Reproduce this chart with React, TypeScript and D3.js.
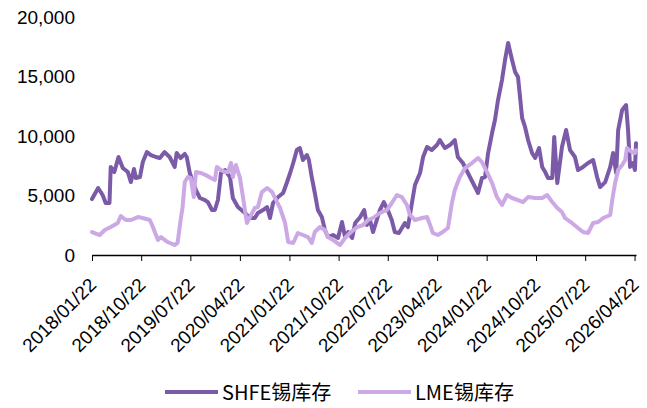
import { useEffect, useRef } from "react";
import * as d3 from "d3";

// SHFE tin stocks (tonnes)
const shfeDates = [
  "2018-01-22", "2018-02-25", "2018-03-22", "2018-04-08", "2018-04-29", "2018-05-06", "2018-05-26", "2018-06-18",
  "2018-07-12", "2018-08-09", "2018-08-26", "2018-09-12", "2018-09-23", "2018-10-15", "2018-10-31", "2018-11-23",
  "2018-12-15", "2019-01-12", "2019-02-03", "2019-03-01", "2019-03-29", "2019-04-26", "2019-05-07", "2019-05-29",
  "2019-06-21", "2019-07-02", "2019-07-19", "2019-08-05", "2019-08-22", "2019-09-13", "2019-10-11", "2019-10-27",
  "2019-11-19", "2019-12-05", "2019-12-22", "2020-01-08", "2020-01-30", "2020-02-27", "2020-03-14", "2020-04-11",
  "2020-05-20", "2020-06-17", "2020-07-14", "2020-07-31", "2020-08-28", "2020-09-20", "2020-10-06", "2020-10-23",
  "2020-11-20", "2020-12-18", "2021-01-09", "2021-01-26", "2021-02-12", "2021-03-04", "2021-03-21", "2021-04-07",
  "2021-04-29", "2021-05-10", "2021-05-26", "2021-06-12", "2021-06-29", "2021-07-21", "2021-08-07", "2021-08-24",
  "2021-09-21", "2021-10-19", "2021-11-10", "2021-11-27", "2021-12-14", "2022-01-05", "2022-01-22", "2022-02-19",
  "2022-03-13", "2022-03-28", "2022-04-14", "2022-05-01", "2022-05-22", "2022-06-08", "2022-06-30", "2022-07-22",
  "2022-08-13", "2022-08-30", "2022-09-22", "2022-10-25", "2022-11-11", "2022-12-03", "2022-12-20", "2023-01-17",
  "2023-02-03", "2023-02-25", "2023-03-23", "2023-04-21", "2023-05-07", "2023-06-04", "2023-07-02", "2023-07-29",
  "2023-08-15", "2023-09-12", "2023-10-10", "2023-11-07", "2023-12-05", "2023-12-27", "2024-01-13", "2024-01-30",
  "2024-02-21", "2024-03-08", "2024-03-25", "2024-04-16", "2024-05-03", "2024-05-20", "2024-06-11", "2024-06-28",
  "2024-07-14", "2024-08-06", "2024-08-22", "2024-09-08", "2024-09-30", "2024-10-17", "2024-11-08", "2024-11-25",
  "2024-12-12", "2024-12-28", "2025-01-20", "2025-01-31", "2025-02-17", "2025-03-15", "2025-04-07", "2025-04-29",
  "2025-05-26", "2025-06-12", "2025-07-10", "2025-08-07", "2025-09-04", "2025-09-26", "2025-10-13", "2025-11-10",
  "2025-12-08", "2025-12-24", "2026-01-10", "2026-01-21", "2026-02-12", "2026-03-06", "2026-03-17", "2026-03-28",
  "2026-04-13", "2026-04-24", "2026-04-30",
];
const shfeValues = [
  4700, 5630, 5040, 4370, 4370, 7400, 6970, 8235,
  7310, 6970, 6130, 7230, 6470, 6550, 7810, 8650,
  8400, 8235, 8150, 8650, 8235, 7400, 8570, 8150,
  8490, 8235, 6890, 6130, 5460, 4790, 4620, 4450,
  3780, 3780, 4620, 6890, 7140, 6550, 4790, 4030,
  3530, 3110, 3110, 3530, 3780, 4030, 3110, 4370,
  4870, 5210, 6130, 6890, 7730, 8820, 8990, 7980,
  8400, 7980, 6550, 5210, 3780, 3190, 2100, 1510,
  1680, 1430, 2770, 1510, 1930, 1430, 2690, 3190,
  3780, 2520, 2940, 1930, 2940, 3780, 4450, 3780,
  2940, 1930, 1850, 2690, 2350, 4370, 5880, 6890,
  8235, 9075, 8820, 9240, 9660, 8990, 9240, 9660,
  8235, 7730, 6890, 6050, 5210, 6470, 6550, 8570,
  10250, 11340, 13020, 14700, 16390, 17810, 16390, 15380,
  14960, 11500, 10760, 9660, 8570, 8150, 8990, 7400,
  6970, 6470, 6470, 9920, 6050, 9075, 10500, 8820,
  8235, 7140, 7400, 7730, 7980, 6550, 5710, 6130,
  7400, 8570, 6890, 10500, 12180, 12600, 10500, 7400,
  7730, 7140, 9400,
];

// LME tin stocks (tonnes)
const lmeDates = [
  "2018-01-22", "2018-03-06", "2018-04-03", "2018-05-06", "2018-06-14", "2018-07-01", "2018-07-28", "2018-08-26",
  "2018-10-04", "2018-10-31", "2018-12-09", "2018-12-26", "2019-01-23", "2019-02-09", "2019-03-18", "2019-04-26",
  "2019-05-12", "2019-05-29", "2019-06-09", "2019-06-21", "2019-07-08", "2019-07-24", "2019-08-10", "2019-08-22",
  "2019-09-19", "2019-10-16", "2019-11-13", "2019-12-05", "2019-12-16", "2020-01-08", "2020-01-30", "2020-02-16",
  "2020-03-04", "2020-03-14", "2020-03-31", "2020-04-22", "2020-05-09", "2020-05-31", "2020-06-17", "2020-07-14",
  "2020-07-31", "2020-08-22", "2020-09-20", "2020-10-18", "2020-11-03", "2020-12-01", "2020-12-29", "2021-01-15",
  "2021-02-12", "2021-03-10", "2021-04-07", "2021-05-05", "2021-05-26", "2021-06-12", "2021-07-10", "2021-08-07",
  "2021-08-24", "2021-09-21", "2021-10-30", "2021-11-27", "2021-12-24", "2022-02-02", "2022-03-07", "2022-04-03",
  "2022-05-01", "2022-06-08", "2022-07-17", "2022-08-13", "2022-09-11", "2022-10-08", "2022-11-05", "2022-11-22",
  "2022-12-20", "2023-01-28", "2023-02-25", "2023-03-14", "2023-03-29", "2023-04-26", "2023-05-23", "2023-06-21",
  "2023-07-13", "2023-07-29", "2023-08-26", "2023-09-24", "2023-11-01", "2023-12-05", "2023-12-27", "2024-01-24",
  "2024-02-21", "2024-03-19", "2024-04-16", "2024-05-14", "2024-06-11", "2024-07-14", "2024-08-11", "2024-09-08",
  "2024-10-17", "2024-11-25", "2024-12-23", "2025-01-20", "2025-02-17", "2025-03-15", "2025-04-01", "2025-05-09",
  "2025-06-12", "2025-07-10", "2025-08-07", "2025-09-04", "2025-10-02", "2025-10-30", "2025-12-08", "2025-12-19",
  "2026-01-04", "2026-01-21", "2026-02-12", "2026-03-01", "2026-03-11", "2026-04-07", "2026-04-24", "2026-04-30",
];
const lmeValues = [
  1930, 1680, 2100, 2350, 2690, 3280, 2940, 2940,
  3190, 3110, 2940, 2350, 1260, 1510, 1090, 840,
  1010, 2940, 4030, 6130, 6550, 6470, 4870, 6970,
  6890, 6720, 6470, 6300, 7400, 7140, 6970, 6970,
  7730, 6550, 7560, 6500, 4870, 2690, 3190, 3950,
  4030, 5290, 5630, 5290, 4790, 3950, 2690, 1090,
  1010, 1850, 1680, 1510, 1010, 1930, 2350, 2100,
  1510, 1260, 840, 1430, 1850, 2350, 2520, 2940,
  3110, 3530, 3780, 4370, 5040, 4870, 4200, 3360,
  2940, 3110, 3190, 2520, 1850, 1680, 1930, 2270,
  4370, 5460, 6550, 7310, 7730, 8150, 7810, 6970,
  6050, 4870, 4200, 5040, 4790, 4620, 4450, 4870,
  4790, 4790, 5040, 4450, 3950, 3610, 3110, 2690,
  2270, 1930, 1850, 2690, 2770, 3110, 3360, 4620,
  6050, 7140, 7560, 7980, 8990, 8650, 8570, 8800,
];

const xTickLabels = [
  "2018/01/22", "2018/10/22", "2019/07/22", "2020/04/22", "2021/01/22", "2021/10/22",
  "2022/07/22", "2023/04/22", "2024/01/22", "2024/10/22", "2025/07/22", "2026/04/22",
];
const yTicks = [0, 5000, 10000, 15000, 20000];
const seriesNames = ["SHFE锡库存", "LME锡库存"];
const seriesColors = ["#7b5aa8", "#cca9e5"];

export default function App() {
  const ref = useRef<SVGSVGElement>(null);

  useEffect(() => {
    const svg = d3.select(ref.current);
    svg.selectAll("*").remove();

    const parse = d3.timeParse("%Y-%m-%d");
    const parseTick = d3.timeParse("%Y/%m/%d");
    const font = "'Liberation Sans', Arial, sans-serif";

    const x = d3
      .scaleTime()
      .domain([parse("2018-01-22") as Date, parse("2026-04-30") as Date])
      .range([92, 636]);
    const y = d3.scaleLinear().domain([0, 20000]).range([255, 17]);

    // y axis: labels only
    const yAxis = svg
      .append("g")
      .attr("transform", "translate(75,0)")
      .call(
        d3
          .axisLeft(y)
          .tickValues(yTicks)
          .tickSize(0)
          .tickPadding(0)
          .tickFormat((d) => d3.format(",")(d as number))
      );
    yAxis.select(".domain").remove();
    yAxis
      .selectAll("text")
      .attr("font-family", font)
      .attr("font-size", 19)
      .attr("fill", "#000");

    // x axis
    const xAxis = svg
      .append("g")
      .attr("transform", "translate(0,255)")
      .call(
        d3
          .axisBottom(x)
          .tickValues(xTickLabels.map((t) => parseTick(t) as Date))
          .tickSize(6)
          .tickSizeOuter(0)
          .tickFormat((d) => d3.timeFormat("%Y/%m/%d")(d as Date))
      );
    xAxis.select(".domain").attr("stroke", "#000").attr("stroke-width", 1.3);
    xAxis.selectAll(".tick line").attr("stroke", "#000").attr("stroke-width", 1);
    xAxis
      .selectAll("text")
      .attr("font-family", font)
      .attr("font-size", 19)
      .attr("fill", "#000")
      .attr("text-anchor", "end")
      .attr("x", 0)
      .attr("y", 0)
      .attr("dy", 0)
      .attr("transform", "translate(5,31) rotate(-45)");

    const series = [
      { dates: shfeDates, values: shfeValues },
      { dates: lmeDates, values: lmeValues },
    ];

    const line = d3
      .line<[Date, number]>()
      .x((d) => x(d[0]))
      .y((d) => y(d[1]));

    series.forEach((s, i) => {
      const pts: [Date, number][] = s.dates.map((d, j) => [parse(d) as Date, s.values[j]]);
      svg
        .append("path")
        .datum(pts)
        .attr("fill", "none")
        .attr("stroke", seriesColors[i])
        .attr("stroke-width", 4)
        .attr("stroke-linejoin", "round")
        .attr("stroke-linecap", "round")
        .attr("d", line);
    });

    // legend
    const legendX = [165, 358];
    const legend = svg.append("g");
    seriesNames.forEach((name, i) => {
      legend
        .append("line")
        .attr("x1", legendX[i])
        .attr("x2", legendX[i] + 53)
        .attr("y1", 392)
        .attr("y2", 392)
        .attr("stroke", seriesColors[i])
        .attr("stroke-width", 4);
      legend
        .append("text")
        .attr("x", legendX[i] + 57)
        .attr("y", 393)
        .attr("dy", "0.36em")
        .attr("font-family", "'Noto Sans CJK SC', sans-serif")
        .attr("font-size", 20)
        .attr("fill", "#000")
        .text(name);
    });
  }, []);

  return (
    <svg
      ref={ref}
      width={647}
      height={408}
      style={{ position: "absolute", left: 0, top: 0, background: "#fff" }}
    />
  );
}
